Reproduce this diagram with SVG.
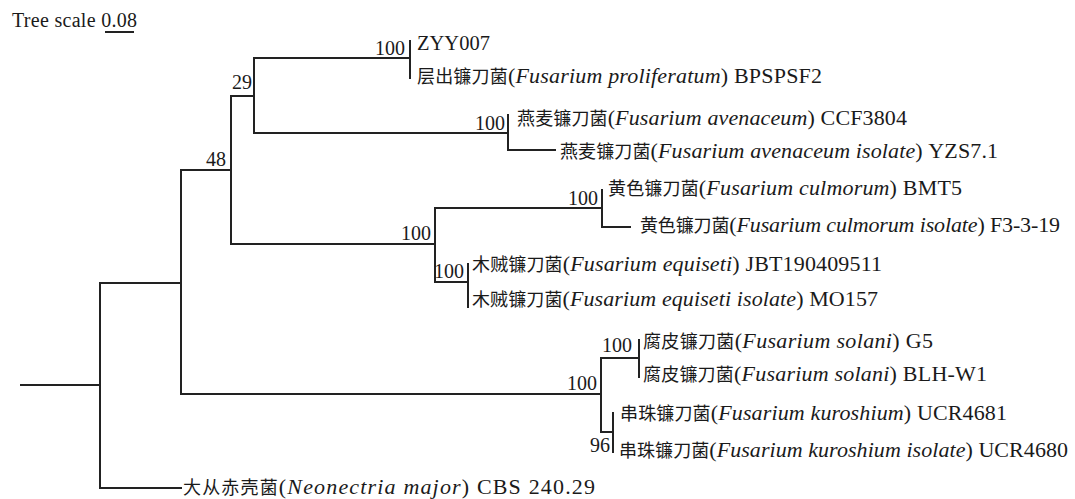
<svg xmlns="http://www.w3.org/2000/svg" width="1075" height="499" viewBox="0 0 1075 499">
<style>
text{font-family:"Liberation Serif","Times New Roman",serif;font-size:22px;fill:#1a1a1a}
.cj{font-family:"Noto Sans CJK SC",sans-serif;font-size:18px}
.it{font-style:italic}
.bs{font-size:20px;text-anchor:end}
.sc{font-size:20px}
.br{fill:none;stroke:#222;stroke-width:2;stroke-linecap:square}
</style>
<rect width="1075" height="499" fill="#fff"/>
<g id="scale">
<text class="sc" x="12" y="27" textLength="125" lengthAdjust="spacing">Tree scale 0.08</text>
<line x1="105" y1="32" x2="134" y2="32" stroke="#222" stroke-width="2"/>
</g>
<g id="connectors">
<path class="br" d="M21,385H100M100,283V488M100,488H181M100,283H181M181,170V394M181,170H231M231,96V244M231,96H254M254,58V133M254,58H410M410,41V78M254,133H508M508,115V150M508,150H555M231,244H435M435,208V282M435,208H602M602,190V227M602,227H630M435,282H468M468,264V307M181,394H601M601,358V432M601,358H639M639,340V377M601,432H613M613,413V452"/>
</g>
<g id="supports">
<text class="bs" x="405" y="55">100</text>
<text class="bs" x="252" y="89">29</text>
<text class="bs" x="505" y="130">100</text>
<text class="bs" x="226" y="166">48</text>
<text class="bs" x="598" y="205">100</text>
<text class="bs" x="431" y="240">100</text>
<text class="bs" x="464" y="278">100</text>
<text class="bs" x="632" y="352">100</text>
<text class="bs" x="597" y="390">100</text>
<text class="bs" x="610" y="452">96</text>
</g>
<g id="leaf-zyy007"><text x="417" y="50" style="font-size:20.5px">ZYY007</text></g>
<g id="leaf-bpspsf2"><text x="417" y="83" textLength="405" lengthAdjust="spacing"><tspan class="cj">层出镰刀菌</tspan>(<tspan class="it">Fusarium proliferatum</tspan>) BPSPSF2</text></g>
<g id="leaf-ccf3804"><text x="517" y="125" textLength="390" lengthAdjust="spacing"><tspan class="cj">燕麦镰刀菌</tspan>(<tspan class="it">Fusarium avenaceum</tspan>) CCF3804</text></g>
<g id="leaf-yzs71"><text x="560" y="158" textLength="438" lengthAdjust="spacing"><tspan class="cj">燕麦镰刀菌</tspan>(<tspan class="it">Fusarium avenaceum isolate</tspan>) YZS7.1</text></g>
<g id="leaf-bmt5"><text x="608" y="195" textLength="354" lengthAdjust="spacing"><tspan class="cj">黄色镰刀菌</tspan>(<tspan class="it">Fusarium culmorum</tspan>) BMT5</text></g>
<g id="leaf-f3319"><text x="640" y="232" textLength="420" lengthAdjust="spacing"><tspan class="cj">黄色镰刀菌</tspan>(<tspan class="it">Fusarium culmorum isolate</tspan>) F3-3-19</text></g>
<g id="leaf-jbt"><text x="472" y="271" textLength="410" lengthAdjust="spacing"><tspan class="cj">木贼镰刀菌</tspan>(<tspan class="it">Fusarium equiseti</tspan>) JBT190409511</text></g>
<g id="leaf-mo157"><text x="472" y="306" textLength="406" lengthAdjust="spacing"><tspan class="cj">木贼镰刀菌</tspan>(<tspan class="it">Fusarium equiseti isolate</tspan>) MO157</text></g>
<g id="leaf-g5"><text x="643" y="348" textLength="290" lengthAdjust="spacing"><tspan class="cj">腐皮镰刀菌</tspan>(<tspan class="it">Fusarium solani</tspan>) G5</text></g>
<g id="leaf-blhw1"><text x="643" y="381" textLength="344" lengthAdjust="spacing"><tspan class="cj">腐皮镰刀菌</tspan>(<tspan class="it">Fusarium solani</tspan>) BLH-W1</text></g>
<g id="leaf-ucr4681"><text x="620" y="420" textLength="387" lengthAdjust="spacing"><tspan class="cj">串珠镰刀菌</tspan>(<tspan class="it">Fusarium kuroshium</tspan>) UCR4681</text></g>
<g id="leaf-ucr4680"><text x="619" y="457" textLength="449" lengthAdjust="spacing"><tspan class="cj">串珠镰刀菌</tspan>(<tspan class="it">Fusarium kuroshium isolate</tspan>) UCR4680</text></g>
<g id="leaf-cbs"><text x="183" y="494" textLength="412" lengthAdjust="spacing"><tspan class="cj">大从赤壳菌</tspan>(<tspan class="it">Neonectria major</tspan>) CBS 240.29</text></g>
</svg>
